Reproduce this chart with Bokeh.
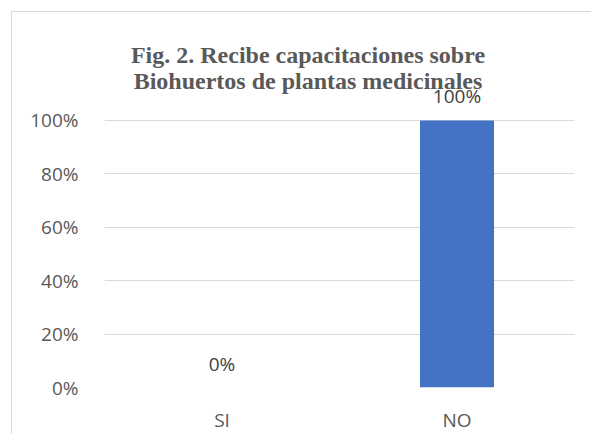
from bokeh.plotting import figure
from bokeh.models import ColumnDataSource, FixedTicker, NumeralTickFormatter, Label, LabelSet
from bokeh.core.properties import value
from bokeh.embed import file_html
from bokeh.resources import INLINE

categories = ["SI", "NO"]
values = [0.0, 1.0]
value_labels = ["0%", "100%"]
y_ticks = [0, 0.2, 0.4, 0.6, 0.8, 1.0]
title_lines = ["Fig. 2. Recibe capacitaciones sobre", "Biohuertos de plantas medicinales"]

source = ColumnDataSource(dict(cat=categories, val=values, lab=value_labels))

W, H = 580, 423
p = figure(x_range=categories, y_range=(0, 1.3745), width=W, height=H,
           output_backend="svg", toolbar_location=None,
           min_border_left=92, min_border_right=18, min_border_top=8, min_border_bottom=48)
p.styles = {"border-left": "1px solid #d9d9d9", "border-top": "1px solid #d9d9d9",
            "margin-left": "11px", "margin-top": "11px"}
p.outline_line_color = None
p.background_fill_color = "white"
p.border_fill_color = "white"

p.vbar(x="cat", top="val", width=0.315, source=source, color="#4472C4", line_color=None)

p.xgrid.grid_line_color = None
p.ygrid.grid_line_color = "#d9d9d9"
p.ygrid.grid_line_width = 1.2
p.yaxis.ticker = FixedTicker(ticks=y_ticks)
p.yaxis.formatter = NumeralTickFormatter(format="0%")

for ax in (p.xaxis, p.yaxis):
    ax.axis_line_color = None
    ax.major_tick_line_color = None
    ax.minor_tick_line_color = None
    ax.major_label_text_font = "Open Sans"
    ax.major_label_text_font_size = "19px"
    ax.major_label_text_color = "#595959"
p.yaxis.major_label_standoff = 20
p.xaxis.major_label_standoff = 13

labels = LabelSet(x="cat", y="val", text="lab", source=source, text_align="center",
                  text_baseline="alphabetic", y_offset=17, text_font=value("Open Sans"),
                  text_font_size="19px", text_color="#404040")
p.add_layout(labels)

for line, off in zip(title_lines, [65, 39]):
    p.add_layout(Label(x=0.866, y=1.0, y_offset=off, text=line,
                       text_align="center", text_baseline="alphabetic",
                       text_font="Liberation Serif", text_font_style="bold",
                       text_font_size="24px", text_color="#595959"))

open("out.html", "w").write(file_html(p, INLINE))
